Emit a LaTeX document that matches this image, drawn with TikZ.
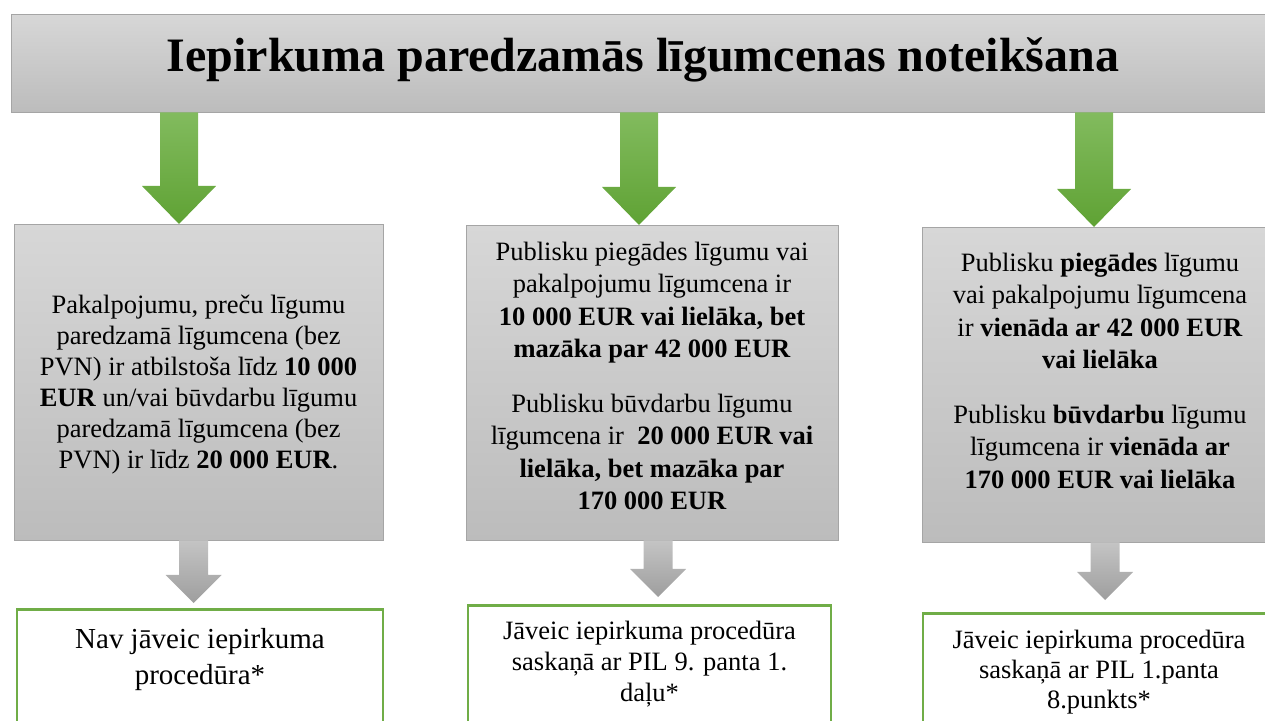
\documentclass[tikz,border=0pt]{standalone}
\usepackage{fontspec}
\setmainfont{Liberation Serif}
\usetikzlibrary{calc}

\definecolor{boxtop}{HTML}{D7D7D7}
\definecolor{boxbot}{HTML}{BCBCBC}
\definecolor{boxline}{HTML}{A5A5A5}
\definecolor{greentop}{HTML}{82BB5E}
\definecolor{greenbot}{HTML}{5FA234}
\definecolor{graytop}{HTML}{C4C4C4}
\definecolor{graybot}{HTML}{9E9E9E}
\definecolor{resline}{HTML}{70AD47}

\tikzset{
  titlebox/.style={draw=boxline, top color=boxtop, bottom color=boxbot,
    anchor=north, inner ysep=0pt, font=\fontsize{48}{58}\selectfont\bfseries},
  graybox/.style={draw=boxline, top color=boxtop, bottom color=boxbot,
    anchor=north, inner xsep=5pt, inner ysep=0pt, align=flush center},
  resultbox/.style={draw=resline, line width=2.5pt, fill=white,
    anchor=north, inner xsep=5pt, inner ysep=0pt, align=flush center, text depth=100pt},
  greenarrow/.style={draw=none, top color=greentop, bottom color=greenbot,
    to path={let \p1=(\tikztostart), \p2=(\tikztotarget) in
      (\x1-19pt,\y1) -- (\x1-19pt,\y2+38pt) -- (\x1-37pt,\y2+38pt) -- (\x1,\y2)
      -- (\x1+37pt,\y2+38pt) -- (\x1+19pt,\y2+38pt) -- (\x1+19pt,\y1) -- cycle}},
  grayarrow/.style={draw=none, top color=graytop, bottom color=graybot,
    to path={let \p1=(\tikztostart), \p2=(\tikztotarget) in
      (\x1-14.5pt,\y1) -- (\x1-14.5pt,\y2+28pt) -- (\x1-28pt,\y2+28pt) -- (\x1,\y2)
      -- (\x1+28pt,\y2+28pt) -- (\x1+14.5pt,\y2+28pt) -- (\x1+14.5pt,\y1) -- cycle}}
}

\begin{document}
\begin{tikzpicture}[x=1pt,y=1pt]
  \useasboundingbox (0,0) rectangle (1265,720);
  \clip (0,0) rectangle (1265,720);

  % heading
  \node[titlebox, minimum width=1274pt, text height=57pt, text depth=41pt] (title) at (648,706)
    {Iepirkuma paredzamās līgumcenas noteikšana\hspace*{10pt}};

  % thresholds
  \begin{scope}[every node/.style={graybox}]
    \node[text width=359pt, text height=89pt, text depth=227pt,
      font=\fontsize{26.5}{31}\selectfont] (low) at (198.5,496)
      {Pakalpojumu, preču līgumu\\
       paredzamā līgumcena (bez\\
       PVN) ir atbilstoša līdz \textbf{10 000}\\
       \textbf{EUR} un/vai būvdarbu līgumu\\
       paredzamā līgumcena (bez\\
       PVN) ir līdz \textbf{20 000 EUR}.};
    \node[text width=362pt, text height=35pt, text depth=280pt,
      font=\fontsize{26.5}{32.5}\selectfont] (mid) at (652,495)
      {Publisku piegādes līgumu vai\\
       pakalpojumu līgumcena ir\\
       \textbf{10 000 EUR vai lielāka, bet}\\
       \textbf{mazāka par 42 000 EUR}\\[22pt]
       Publisku būvdarbu līgumu\\
       līgumcena ir \ \textbf{20 000 EUR vai}\\
       \textbf{lielāka, bet mazāka par}\\
       \textbf{170 000 EUR}};
    \node[text width=346pt, text height=44pt, text depth=271pt,
      font=\fontsize{26.5}{32.5}\selectfont] (high) at (1100,493)
      {Publisku \textbf{piegādes} līgumu\\
       vai pakalpojumu līgumcena\\
       ir \textbf{vienāda ar 42 000 EUR}\\
       \textbf{vai lielāka}\\[22pt]
       Publisku \textbf{būvdarbu} līgumu\\
       līgumcena ir \textbf{vienāda ar}\\
       \textbf{170 000 EUR vai lielāka}};
  \end{scope}

  % outcomes
  \begin{scope}[every node/.style={resultbox}]
    \node[text width=356pt, text height=39pt, font=\fontsize{29}{36}\selectfont]
      (lowres) at (200,112) {Nav jāveic iepirkuma\\procedūra*};
    \node[text width=353pt, text height=34pt, font=\fontsize{26.5}{31}\selectfont]
      (midres) at (649.5,116) {Jāveic iepirkuma procedūra\\saskaņā ar PIL 9. panta 1.\\daļu*};
    \node[text width=342pt, text height=35pt, font=\fontsize{26.5}{30}\selectfont]
      (highres) at (1099,108) {Jāveic iepirkuma procedūra\\saskaņā ar PIL 1.panta\\8.punkts*};
  \end{scope}

  \coordinate (a1) at (179,0);
  \coordinate (a2) at (639,0);
  \coordinate (a3) at (1094,0);
  \coordinate (b1) at (193.5,0);
  \coordinate (b2) at (658,0);
  \coordinate (b3) at (1105,0);

  \begin{scope}[every edge/.style={greenarrow}]
    \path (title.south -| a1) edge (low.north -| a1);
    \path (title.south -| a2) edge (mid.north -| a2);
    \path (title.south -| a3) edge (high.north -| a3);
  \end{scope}

  \begin{scope}[every edge/.style={grayarrow}]
    \path (low.south -| b1)  edge ($(lowres.north -| b1)+(0,5)$);
    \path (mid.south -| b2)  edge ($(midres.north -| b2)+(0,7)$);
    \path (high.south -| b3) edge ($(highres.north -| b3)+(0,12)$);
  \end{scope}

\end{tikzpicture}
\end{document}
